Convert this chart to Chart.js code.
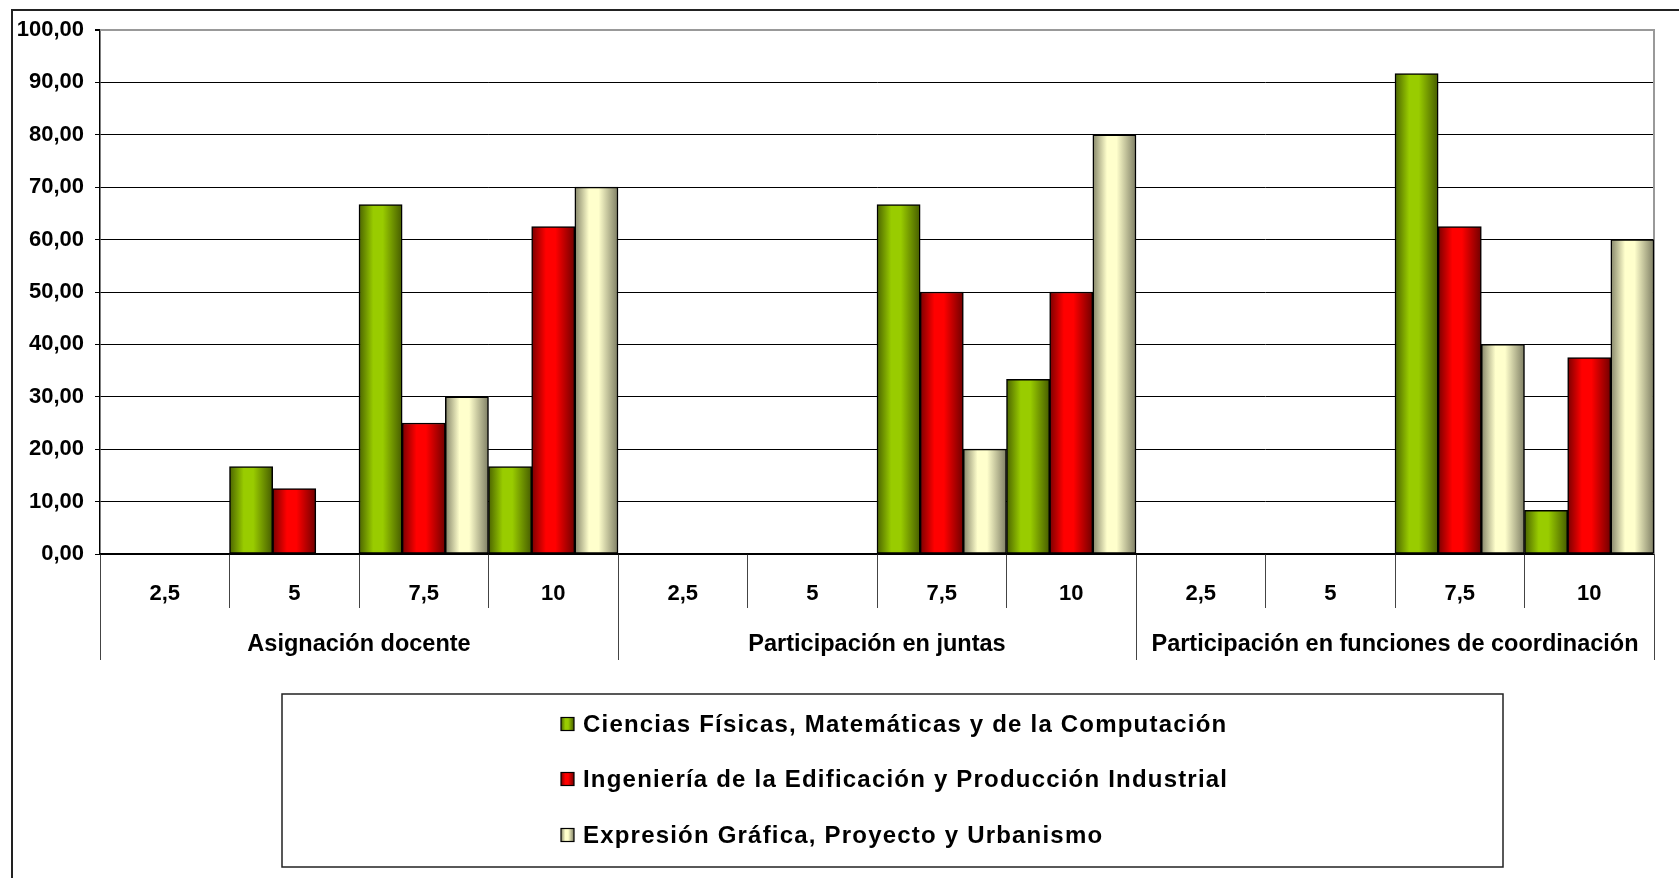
<!DOCTYPE html>
<html>
<head>
<meta charset="utf-8">
<script src="https://cdn.jsdelivr.net/npm/chart.js@4.4.1/dist/chart.umd.min.js"></script>
<style>
html,body{margin:0;padding:0;background:#fff;overflow:hidden}
#wrap{position:relative;width:1679px;height:878px}
</style>
</head>
<body>
<div id="wrap"><canvas id="c" width="1679" height="878"></canvas></div>
<script>
// ---- data ----
const groups = ['Asignación docente', 'Participación en juntas', 'Participación en funciones de coordinación'];
const levels = ['2,5', '5', '7,5', '10'];
const categories = ['2,5', '5', '7,5', '10', '2,5', '5', '7,5', '10', '2,5', '5', '7,5', '10'];
const seriesNames = [
  'Ciencias Físicas, Matemáticas y de la Computación',
  'Ingeniería de la Edificación y Producción Industrial',
  'Expresión Gráfica, Proyecto y Urbanismo'
];
const ciencias   = [0, 16.67, 66.67, 16.67, 0, 0, 66.67, 33.33, 0, 0, 91.67, 8.33];
const ingenieria = [0, 12.5, 25, 62.5, 0, 0, 50, 50, 0, 0, 62.5, 37.5];
const expresion  = [0, 0, 30, 70, 0, 0, 20, 80, 0, 0, 40, 60];
const yTickValues = [0, 10, 20, 30, 40, 50, 60, 70, 80, 90, 100];

// ---- styles ----
const FONT = '"Liberation Sans", Arial, sans-serif';
const shades = [
  { edge: '#4b6400', mid: '#99cc00', dark: '#465c00' },
  { edge: '#7a0000', mid: '#ff0000', dark: '#700000' },
  { edge: '#86866a', mid: '#ffffcc', dark: '#7e7e64' }
];

function makeGrad(ctx, l, r, s) {
  const g = ctx.createLinearGradient(l, 0, r, 0);
  g.addColorStop(0, s.edge);
  g.addColorStop(0.33, s.mid);
  g.addColorStop(0.55, s.mid);
  g.addColorStop(1, s.dark);
  return g;
}

const decorPlugin = {
  id: 'decor',
  beforeDraw(chart) {
    const ctx = chart.ctx;
    ctx.save();
    ctx.fillStyle = '#fff';
    ctx.fillRect(0, 0, chart.width, chart.height);
    ctx.strokeStyle = '#222';
    ctx.lineWidth = 2;
    ctx.strokeRect(12, 10, chart.width + 20, chart.height + 20);
    ctx.restore();
  },
  beforeDatasetsDraw(chart) {
    const ctx = chart.ctx;
    const a = chart.chartArea;
    ctx.save();
    ctx.strokeStyle = '#999';
    ctx.lineWidth = 2;
    ctx.beginPath();
    ctx.moveTo(a.left, a.top);
    ctx.lineTo(a.right, a.top);
    ctx.lineTo(a.right, a.bottom);
    ctx.stroke();
    ctx.restore();
    chart.data.datasets.forEach((ds, di) => {
      const meta = chart.getDatasetMeta(di);
      meta.data.forEach((el, i) => {
        const l = el.x - el.width / 2, r = el.x + el.width / 2;
        const bg = ds.data[i] === 0 ? 'rgba(0,0,0,0)' : makeGrad(ctx, l, r, shades[di]);
        el.options = Object.assign({}, el.options, { backgroundColor: bg });
      });
    });
  },
  afterDraw(chart) {
    const ctx = chart.ctx;
    ctx.save();
    // legend box
    const bl = 282, bt = 694, br = 1503, bb = 867;
    ctx.strokeStyle = '#222';
    ctx.lineWidth = 1.5;
    ctx.strokeRect(bl, bt, br - bl, bb - bt);
    const rowY = [724, 779, 835];
    chart.data.datasets.forEach((ds, i) => {
      const y = rowY[i];
      const sx = 561, sz = 13;
      ctx.fillStyle = makeGrad(ctx, sx, sx + sz, shades[i]);
      ctx.fillRect(sx, y - sz / 2, sz, sz);
      ctx.strokeStyle = '#000';
      ctx.lineWidth = 1.2;
      ctx.strokeRect(sx, y - sz / 2, sz, sz);
      ctx.fillStyle = '#000';
      ctx.font = 'bold 24px ' + FONT;
      ctx.textBaseline = 'middle';
      ctx.textAlign = 'left';
      try { ctx.letterSpacing = '1.2px'; } catch (e) {}
      ctx.fillText(ds.label, 583, y + 1);
      try { ctx.letterSpacing = '0px'; } catch (e) {}
    });
    ctx.restore();
  }
};

const mkDs = (label, data) => ({
  label,
  data,
  backgroundColor: '#999',
  borderColor: '#000',
  borderWidth: c => (c.raw === 0 ? 0 : 1.5),
  borderSkipped: false,
  barPercentage: 1,
  categoryPercentage: 1
});

new Chart(document.getElementById('c'), {
  type: 'bar',
  data: {
    labels: categories,
    datasets: [
      mkDs(seriesNames[0], ciencias),
      mkDs(seriesNames[1], ingenieria),
      mkDs(seriesNames[2], expresion)
    ]
  },
  options: {
    responsive: false,
    animation: false,
    events: [],
    layout: { padding: { left: 0, right: 25, top: 30, bottom: 218 } },
    plugins: { legend: { display: false }, tooltip: { enabled: false } },
    scales: {
      y: {
        min: 0, max: 100,
        afterBuildTicks: s => { s.ticks = yTickValues.map(v => ({ value: v })); },
        afterFit: s => { s.width = 100; },
        ticks: {
          color: '#000',
          font: { family: FONT, size: 22, weight: 'bold' },
          padding: 11,
          callback: v => Number(v).toFixed(2).replace('.', ',')
        },
        grid: {
          color: c => (c.tick && c.tick.value === 100 ? '#999' : '#000'),
          lineWidth: c => (c.tick && c.tick.value === 100 ? 2 : 1),
          tickLength: 5,
          tickColor: '#000'
        },
        border: { display: true, color: '#000', width: 1.5 }
      },
      x: {
        position: 'bottom',
        weight: 0,
        afterFit: s => { s.height = 54; },
        ticks: {
          color: '#000',
          font: { family: FONT, size: 22, weight: 'bold' },
          padding: -27,
          maxRotation: 0,
          autoSkip: false
        },
        grid: {
          offset: true,
          drawOnChartArea: false,
          drawTicks: true,
          tickLength: 54,
          color: '#444',
          lineWidth: 1
        },
        border: { display: true, color: '#000', width: 1.5 }
      },
      x2: {
        type: 'category',
        position: 'bottom',
        weight: 1,
        labels: groups,
        offset: true,
        afterFit: s => { s.height = 52; },
        ticks: {
          color: '#000',
          font: { family: FONT, size: 23.5, weight: 'bold' },
          padding: -30,
          maxRotation: 0,
          autoSkip: false
        },
        grid: {
          offset: true,
          drawOnChartArea: false,
          drawTicks: true,
          tickLength: 52,
          color: '#444',
          lineWidth: 1
        },
        border: { display: false }
      }
    }
  },
  plugins: [decorPlugin]
});
</script>
</body>
</html>
